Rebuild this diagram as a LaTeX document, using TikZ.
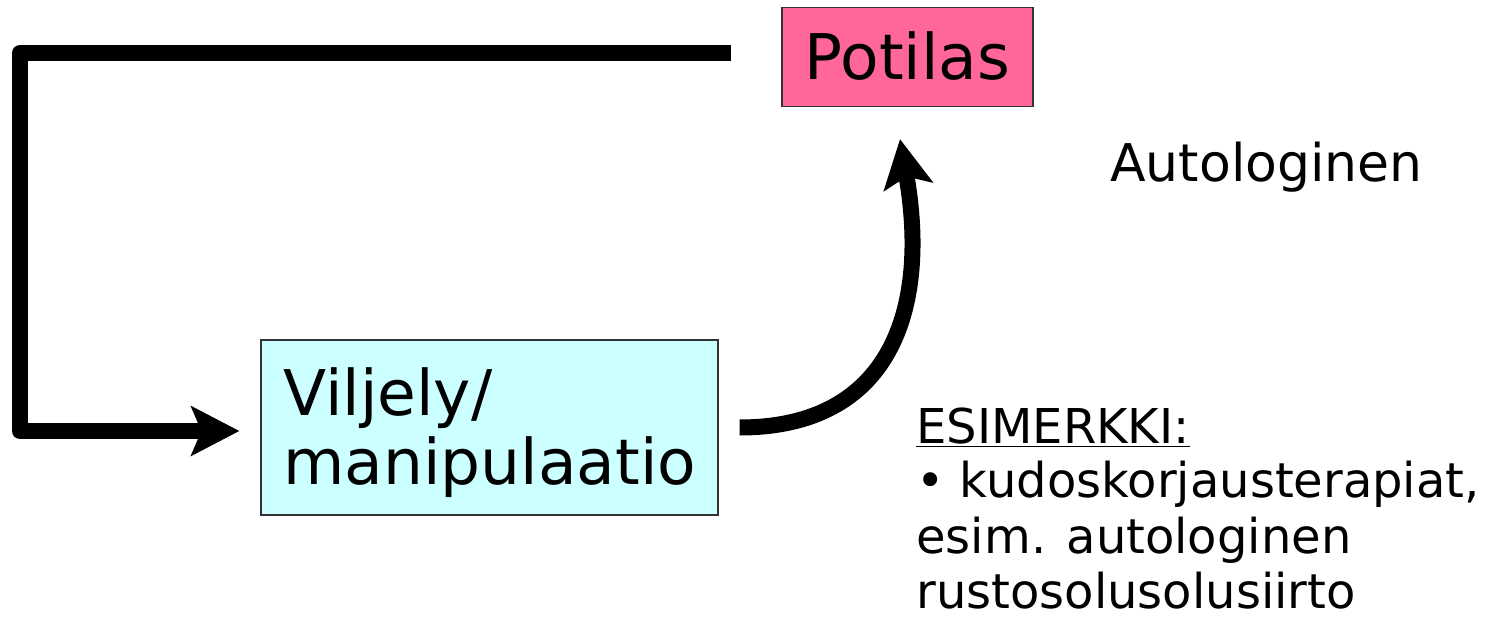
\documentclass[tikz,border=0pt]{standalone}
\usepackage{fontspec}
\setmainfont{DejaVu Sans}
\usetikzlibrary{arrows.meta,calc}
\definecolor{potpink}{HTML}{FF6699}
\definecolor{cultcyan}{HTML}{CCFFFF}
\begin{document}
\begin{tikzpicture}[x=0.5pt,y=-0.5pt,
  box/.style={draw=black!80, line width=0.6pt, inner sep=0pt},
  flow/.style={line width=8pt, line join=round},
  head/.style={-{Stealth[length=24pt,width=24.5pt,inset=5pt]}},
  bigtext/.style={font=\fontsize{31.5}{35}\selectfont},
  plain/.style={inner sep=0pt, anchor=base west},
]
\useasboundingbox (0,0) rectangle (1494,620);

% the two boxes
\node[box, bigtext, fill=potpink, minimum width=125.5pt, minimum height=49.5pt,
      text height=23pt, text depth=0pt] (potilas) at (907.5,57) {Potilas};
\node[box, fill=cultcyan, minimum width=228.5pt, minimum height=87.5pt] (viljely) at (489.5,427.5) {};
\node[plain, bigtext] (viljelytext) at (283,415)
  {\vtop{\hbox{Viljely/}\hbox{manipulaatio}}};

% side texts
\node[plain, font=\fontsize{26}{30}\selectfont] (autologinen) at (1110,182) {Autologinen};
\node[plain, font=\fontsize{24}{27.5}\selectfont] (esimerkki) at (916,443)
  {\vtop{\hbox{\underline{ESIMERKKI:}}
         \hbox{• kudoskorjausterapiat,}
         \hbox{esim. autologinen}
         \hbox{rustosolusolusiirto}}};

% loop from the patient back into culturing
\coordinate (loopstart) at (731,53);
\coordinate (loopturn) at (20,53);
\coordinate (loopdown) at (20,431);
\draw[flow, head, shorten >=10.5pt]
  (loopstart) -- (loopturn) -- (loopdown) -- (loopdown -| viljely.west);

% curved return to the patient
\draw[flow, head, shorten <=10.5pt]
  (viljely.east) .. controls (890,427.5) and (930,310) .. ($(potilas.south)+(-7.5,32)$);
\end{tikzpicture}
\end{document}
